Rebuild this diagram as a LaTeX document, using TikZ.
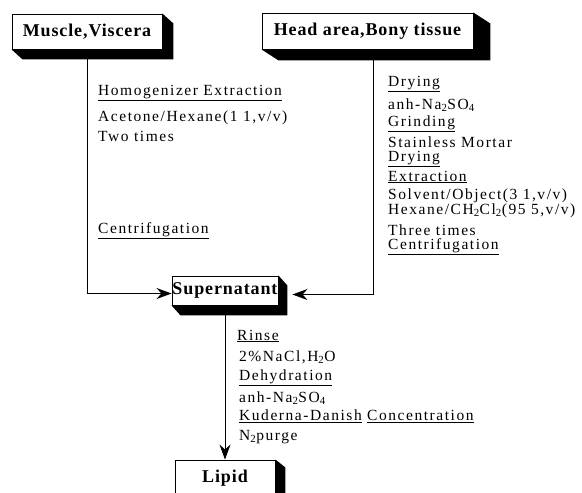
\documentclass[tikz,border=0pt]{standalone}
\usepackage{fontspec}
\setmainfont{Liberation Serif}
\newfontfamily\boxfont[LetterSpace=5]{Liberation Serif}
\newfontfamily\stepfont[LetterSpace=10]{Liberation Serif}
\usetikzlibrary{arrows.meta,calc}

\tikzset{
  stagebox/.style={draw,fill=white,line width=0.9pt,inner sep=0pt,font=\boxfont\fontsize{18}{21}\selectfont\bfseries},
  steptext/.style={anchor=west,inner sep=0pt,font=\stepfont\fontsize{15.5}{18}\selectfont},
  flow/.style={line width=0.9pt,-{Stealth[length=15pt,width=11pt]}}
}
\newcommand{\boxshade}[3]{\fill[black] (#1.north east) -- ++(#2,#3) -- ($(#1.south east)+(#2,#3)$) -- ($(#1.south west)+(#2,#3)$) -- (#1.south west) -- (#1.south east) -- cycle;}

\begin{document}
\begin{tikzpicture}[x=1pt,y=-1pt]
\useasboundingbox (0,0) rectangle (582,493);
\node[stagebox,minimum width=150pt,minimum height=35pt] (mv) at (87,31.5) {Muscle,Viscera};
\node[stagebox,minimum width=211pt,minimum height=36pt] (hd) at (367.5,31) {Head area,Bony tissue};
\node[stagebox,minimum width=106pt,minimum height=29pt] (sp) at (225,290.5) {Supernatant};
\node[stagebox,minimum width=100pt,minimum height=36pt] (lp) at (225,478) {Lipid};
\coordinate (hdout) at ($(hd.south)+(5.5,0)$);
\coordinate (spin) at ($(sp.east)+(14,4)$);
\coordinate (spin0) at ($(sp.west)+(0,3)$);
\draw[flow] (mv.south) |- (spin0);
\draw[flow] (hdout) |- (spin);
\draw[flow] (sp.south) -- (lp.north);
\boxshade{mv}{11}{10}
\boxshade{hd}{17}{11}
\boxshade{sp}{9}{10}
\boxshade{lp}{10}{8}
% left branch
\node[steptext] at (98,93) {\underline{Homogenizer Extraction}};
\node[steptext] at (98,118) {Acetone/Hexane(1 1,v/v)};
\node[steptext] at (98,136) {Two times};
\node[steptext] at (98,231) {\underline{Centrifugation}};
% right branch
\node[steptext] at (388,84) {\underline{Drying}};
\node[steptext] at (388,105) {anh-Na\textsubscript{2}SO\textsubscript{4}};
\node[steptext] at (388,124) {\underline{Grinding}};
\node[steptext] at (388,142) {Stainless Mortar};
\node[steptext] at (388,159) {\underline{Drying}};
\node[steptext] at (388,177) {\underline{Extraction}};
\node[steptext] at (388,196) {Solvent/Object(3 1,v/v)};
\node[steptext] at (388,211) {Hexane/CH\textsubscript{2}Cl\textsubscript{2}(95 5,v/v)};
\node[steptext] at (388,230) {Three times};
\node[steptext] at (388,247) {\underline{Centrifugation}};
% after supernatant
\node[steptext] at (237,336) {\underline{Rinse}};
\node[steptext] at (239,357) {2\%NaCl,H\textsubscript{2}O};
\node[steptext] at (239,378) {\underline{Dehydration}};
\node[steptext] at (239,398) {anh-Na\textsubscript{2}SO\textsubscript{4}};
\node[steptext] at (239,416) {\underline{Kuderna-Danish} \underline{Concentration}};
\node[steptext] at (239,437) {N\textsubscript{2}purge};
\end{tikzpicture}
\end{document}
